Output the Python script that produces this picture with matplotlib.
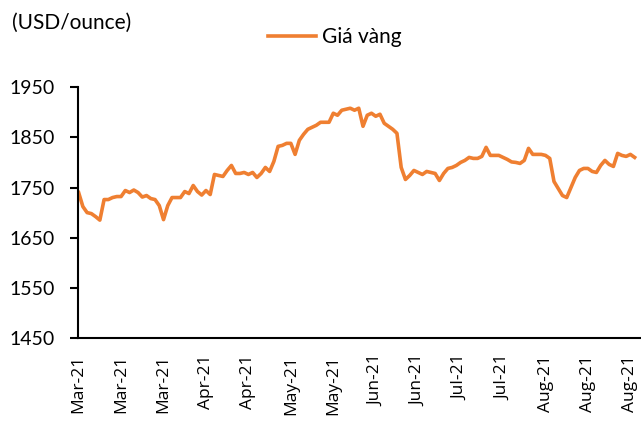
import matplotlib
matplotlib.use("Agg")
import matplotlib.pyplot as plt

# Gia vang (USD/ounce), one value per trading day, Mar-21 .. Aug-21
gold_price = [
    1740, 1712, 1700, 1698, 1692, 1685, 1726, 1726, 1730, 1732,
    1732, 1744, 1740, 1745, 1740, 1731, 1734, 1728, 1726, 1714,
    1686, 1714, 1730, 1730, 1730, 1742, 1738, 1754, 1742, 1735,
    1744, 1736, 1776, 1774, 1772, 1784, 1794, 1778, 1778, 1780,
    1776, 1780, 1770, 1778, 1790, 1782, 1802, 1832, 1834, 1838,
    1838, 1816, 1844, 1856, 1866, 1870, 1874, 1880, 1880, 1880,
    1898, 1894, 1904, 1906, 1908, 1904, 1908, 1872, 1894, 1898,
    1892, 1896, 1878, 1872, 1866, 1858, 1790, 1766, 1774, 1784,
    1780, 1776, 1782, 1780, 1778, 1764, 1778, 1788, 1790, 1794,
    1800, 1804, 1810, 1808, 1808, 1812, 1830, 1814, 1814, 1814,
    1810, 1806, 1801, 1800, 1798, 1804, 1828, 1816, 1816, 1816,
    1814, 1808, 1762, 1748, 1734, 1730, 1750, 1770, 1784, 1788,
    1788, 1782, 1780, 1794, 1804, 1796, 1792, 1818, 1814, 1812,
    1816, 1810,
]

tick_labels = ["Mar-21", "Mar-21", "Mar-21", "Apr-21", "Apr-21", "May-21", "May-21",
               "Jun-21", "Jun-21", "Jul-21", "Jul-21", "Aug-21", "Aug-21", "Aug-21"]
y_ticks = [1450, 1550, 1650, 1750, 1850, 1950]

fig = plt.figure(figsize=(6.41, 4.21), dpi=100)
ax = fig.add_axes([0.122, 0.197, 0.878, 0.596])

x = list(range(len(gold_price)))
ax.plot(x, gold_price, color="#EF7F31", linewidth=2.6, label="Giá vàng",
        solid_joinstyle="round")

ax.set_ylim(1450, 1950)
ax.set_xlim(-0.1, 132.5)
ax.set_yticks(y_ticks)
ax.set_yticklabels([str(v) for v in y_ticks], fontsize=14, family="Lato")
ax.set_xticks(range(0, 10 * len(tick_labels), 10))
ax.set_xticklabels(tick_labels, rotation=90, fontsize=12.5, family="Open Sans")
ax.tick_params(axis="x", length=0, pad=12)
ax.tick_params(axis="y", length=6, width=1.5, direction="out", pad=11)

for side in ["top", "right"]:
    ax.spines[side].set_visible(False)
for side in ["left", "bottom"]:
    ax.spines[side].set_linewidth(1.5)

fig.text(0.018, 0.945, "(USD/ounce)", fontsize=15, family="Lato", va="center")
fig.legend(loc="center", bbox_to_anchor=(0.522, 0.912), frameon=False,
           prop={"family": "Lato", "size": 15}, handlelength=2.3,
           handletextpad=0.3)

fig.savefig("out.png", dpi=100)
